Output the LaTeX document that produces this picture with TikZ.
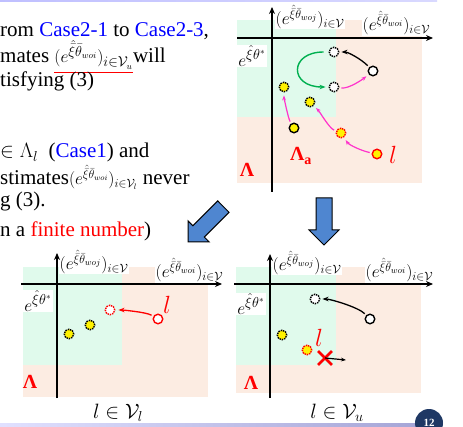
\documentclass[tikz,border=0pt]{standalone}
\usepackage{amsmath}
\usepackage{fontspec}
\setmainfont{Liberation Serif}
\usetikzlibrary{arrows.meta,shapes.misc}

\definecolor{peach}{RGB}{252,236,226}
\definecolor{mint}{RGB}{224,250,236}
\definecolor{magarr}{RGB}{255,51,204}
\definecolor{grnarr}{RGB}{0,176,80}
\definecolor{blockblue}{RGB}{79,134,208}
\definecolor{navy}{RGB}{31,56,100}

\newcommand{\wojlab}{$(e^{\hat{\bar{\xi}}\bar{\theta}_{woj}})_{i\in\mathcal{V}}$}
\newcommand{\woilab}{$(e^{\hat{\bar{\xi}}\bar{\theta}_{woi}})_{i\in\mathcal{V}}$}
\newcommand{\starlab}{$e^{\hat{\xi}\theta^{*}}$}
\newcommand{\redul}[1]{\textcolor{red}{\underline{\textcolor{black}{#1}}}}

\begin{document}
\begin{tikzpicture}[x=1pt, y=-1pt,
    txt/.style={anchor=base west, inner sep=0pt, font=\fontsize{21}{25}\selectfont},
    axis/.style={line width=1.3pt, -{Stealth[length=7pt,width=6pt]}},
    lab/.style={fill=white, inner sep=0.5pt, font=\fontsize{17.5}{17.5}\selectfont},
    starl/.style={fill=white, inner sep=1pt, font=\fontsize{19}{19}\selectfont},
    pt/.style={circle, minimum size=9.5pt, inner sep=0pt, line width=1.4pt},
    wsolid/.style={pt, draw=black, fill=white},
    wdots/.style={pt, draw=black, fill=white, densely dotted},
    ysolid/.style={pt, draw=black, fill=yellow},
    ydots/.style={pt, draw=black, fill=yellow, densely dotted},
    yrsolid/.style={pt, draw=red, fill=yellow},
    yrdots/.style={pt, draw=red, fill=yellow, densely dotted},
    rsolid/.style={pt, draw=red, fill=white},
    rdots/.style={pt, draw=red, fill=white, densely dotted},
    lam/.style={red, font=\fontsize{20}{20}\selectfont\bfseries},
    ell/.style={red, font=\fontsize{24}{24}\selectfont},
    captext/.style={font=\fontsize{21}{21}\selectfont},
    karr/.style={black, line width=1.3pt, -{Stealth[length=6pt]}, shorten <=2pt, shorten >=2pt},
    marr/.style={magarr, line width=1.2pt, -{Stealth[length=5pt]}, shorten <=2pt, shorten >=3pt},
    garr/.style={grnarr, line width=1.4pt, -{Stealth[length=6pt]}, shorten <=5pt, shorten >=3pt},
    rarr/.style={red, line width=1.3pt, -{Stealth[length=6pt]}, shorten <=2pt, shorten >=3pt},
    bigarrow/.style={draw=black, line width=1pt, fill=blockblue, line join=miter}
]
\useasboundingbox (0,0) rectangle (463,427);

% slide frame
\fill[left color=blue!25, right color=blue!15] (0,0) rectangle (437,1.5);
\fill[left color=blue!12, right color=black!45!blue!35] (0,423) rectangle (417,427);
\node[circle, fill=navy, minimum size=28pt, inner sep=0pt, text=white, font=\fontsize{11}{11}\selectfont\bfseries] (pg) at (429,423) {12};

% text on the left
\node[txt] (l1) at (0,37) {rom \textcolor{blue}{Case2-1} to \textcolor{blue}{Case2-3},};
\node[txt] (l2) at (0,63) {mates \redul{{\fontsize{19}{19}\selectfont$(e^{\hat{\bar{\xi}}\bar{\theta}_{woi}})_{i\in\mathcal{V}_u}$}}will};
\node[txt] (l3) at (0,87) {tisfying (3)};
\node[txt] (l4) at (0,158) {$\in\Lambda_l$\ \ (\textcolor{blue}{Case1}) and};
\node[txt] (l5) at (0,185) {stimates{\fontsize{17}{17}\selectfont$(e^{\hat{\bar{\xi}}\bar{\theta}_{woi}})_{i\in\mathcal{V}_l}$} never};
\node[txt] (l6) at (0,207) {g (3).};
\node[txt] (l7) at (0,237) {n a \textcolor{red}{finite number})};

% block arrows
\draw[bigarrow] (229.0,212.3) -- (204.3,237.0) -- (209.2,242.0) -- (188,242)
  -- (188,220.8) -- (192.9,225.7) -- (217.7,200.9) -- cycle;
\draw[bigarrow] (316,198) -- (332,198) -- (332,230) -- (339,230) -- (324,245)
  -- (309,230) -- (316,230) -- cycle;

% top right
\fill[peach] (237,20) rectangle (422,183);
\fill[mint] (237,20) rectangle (336,117);
\node[lab, anchor=west] (trj) at (275,17) {\wojlab};
\node[lab, anchor=south east] (tri) at (431,36) {\woilab};
\node[starl] (trs) at (252,56) {\starlab};
\draw[axis] (272,192) -- (272,7);
\draw[axis] (237,38) -- (433,38);
\node[wdots] (trD1) at (334,52) {};
\node[wdots] (trD2) at (334,87) {};
\node[wsolid] (trW) at (373,71) {};
\node[ydots] (trY1) at (284,87) {};
\node[ydots] (trY2) at (310,102) {};
\node[ysolid] (trY3) at (294,128) {};
\node[yrdots] (trY4) at (341,133) {};
\node[yrsolid] (trY5) at (377,154) {};
\node[ell] (trl) at (393,155) {$l$};
\node[lam] (trLa) at (301,156) {Λ\textsubscript{a}};
\node[lam] (trL) at (247,170) {Λ};
\draw[karr] (trW) .. controls +(-12,-12) and +(14,0) .. (trD1);
\draw[garr] (trD1) .. controls +(-45,0) and +(-45,0) .. (trD2);
\draw[marr] (trD2) .. controls +(15,2) and +(-10,8) .. (trW);
\draw[marr] (trY5) .. controls +(-15,-3) and +(8,12) .. (trY4);
\draw[marr] (trY4) .. controls +(-12,-5) and +(10,10) .. (trY2);
\draw[marr] (trY3) .. controls +(-6,-10) and +(0,10) .. (trY1);

% bottom left
\fill[peach] (23,267) rectangle (208,397);
\fill[mint] (23,267) rectangle (122,365);
\node[lab, anchor=west] (blj) at (59,262) {\wojlab};
\node[lab, anchor=south east] (bli) at (224,283) {\woilab};
\node[starl] (bls) at (38,301) {\starlab};
\draw[axis] (57,398) -- (57,253);
\draw[axis] (21,284) -- (222,284);
\node[rdots] (blR1) at (110,310) {};
\node[rsolid] (blR2) at (158,319) {};
\node[ydots] (blY1) at (90,325) {};
\node[ydots] (blY2) at (69,334) {};
\node[ell] (bll) at (167,305) {$l$};
\node[lam] (blL) at (30,382) {Λ};
\draw[rarr] (blR2) .. controls +(-12,-7) and +(12,0) .. (blR1);
\node[captext] (blc) at (118,413) {$l\in\mathcal{V}_l$};

% bottom right
\fill[peach] (236,267) rectangle (421,393);
\fill[mint] (236,267) rectangle (336,365);
\node[lab, anchor=west] (brj) at (272,263) {\wojlab};
\node[lab, anchor=south east] (bri) at (434,283) {\woilab};
\node[starl] (brs) at (251,304) {\starlab};
\draw[axis] (270,398) -- (270,254);
\draw[axis] (234,284) -- (433,284);
\node[wdots] (brD) at (315,299) {};
\node[wsolid] (brW) at (370,319) {};
\node[ydots] (brY1) at (282,335) {};
\node[yrdots] (brY2) at (307,350) {};
\node[ell] (brl) at (319,338) {$l$};
\node[lam] (brL) at (251,383) {Λ};
\node[cross out, draw=red, line width=2.8pt, minimum size=11pt, inner sep=0pt] (brX) at (325,358) {};
\coordinate (brE) at (346,360);
\draw[karr] (brW) .. controls +(-12,-12) and +(15,0) .. (brD);
\draw[black, line width=1.2pt, -{Stealth[length=5pt]}] (brX.center) -- (brE);
\node[captext] (brc) at (337,413) {$l\in\mathcal{V}_u$};
\end{tikzpicture}
\end{document}
